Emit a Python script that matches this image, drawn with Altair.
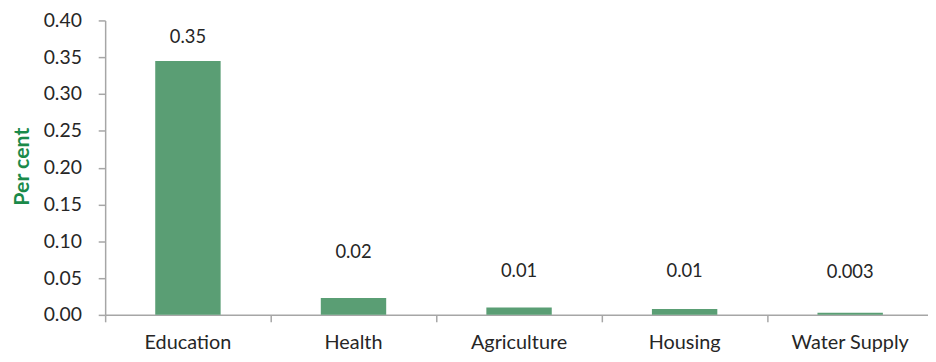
import altair as alt
import pandas as pd

categories = ["Education", "Health", "Agriculture", "Housing", "Water Supply"]
values = [0.345, 0.023, 0.010, 0.008, 0.003]
value_labels = ["0.35", "0.02", "0.01", "0.01", "0.003"]
label_anchor = [0.377, 0.085, 0.059, 0.059, 0.058]
y_ticks = [0.0, 0.05, 0.10, 0.15, 0.20, 0.25, 0.30, 0.35, 0.40]

df = pd.DataFrame({
    "category": categories,
    "value": values,
    "label": value_labels,
    "label_y": label_anchor,
})

FONT = "Lato"
AXIS_GREY = "#a6a6a6"
TEXT = "#262626"

xscale = alt.Scale(range=[0, 835], paddingInner=0, paddingOuter=0)
yscale = alt.Scale(domain=[0, 0.4], nice=False, zero=True)

xaxis = alt.Axis(
    title=None,
    labelAngle=0,
    bandPosition=0,
    tickSize=7,
    labelPadding=11,
    labelFontSize=20,
    labelFont=FONT,
    labelColor=TEXT,
    domainColor=AXIS_GREY,
    tickColor=AXIS_GREY,
    domainWidth=1.5,
    tickWidth=1.5,
    labelFlush=False,
    labelOverlap=False,
)

yaxis = alt.Axis(
    title="Per cent",
    values=y_ticks,
    format=".2f",
    grid=False,
    tickSize=7,
    labelPadding=17,
    labelFontSize=19.5,
    labelFont=FONT,
    labelColor=TEXT,
    labelOverlap=False,
    labelFlush=False,
    domainColor=AXIS_GREY,
    tickColor=AXIS_GREY,
    domainWidth=1.5,
    tickWidth=1.5,
    titleFont=FONT,
    titleFontSize=21.5,
    titleFontWeight="bold",
    titleColor="#1a8a4a",
    titleAngle=270,
    titleAlign="center",
    titleBaseline="middle",
    titleX=-83,
    titleY=147,
)

bars = alt.Chart(df).mark_bar(
    color="#5a9e74", width=alt.RelativeBandSize(0.395)
).encode(
    x=alt.X("category:N", sort=categories, scale=xscale, axis=xaxis),
    y=alt.Y("value:Q", scale=yscale, axis=yaxis),
)

texts = alt.Chart(df).mark_text(
    font=FONT, fontSize=18.5, color=TEXT, baseline="middle", align="center"
).encode(
    x=alt.X("category:N", sort=categories, scale=xscale, axis=xaxis),
    y=alt.Y("label_y:Q", scale=yscale, axis=yaxis),
    text="label:N",
)

chart = alt.layer(bars, texts).properties(
    width=830,
    height=297,
    autosize=alt.AutoSizeParams(type="none"),
    padding={"left": 98, "top": 11, "right": 0, "bottom": 46},
).configure_view(stroke=None)

chart.save("out.html", embed_options={"renderer": "svg", "actions": False})
